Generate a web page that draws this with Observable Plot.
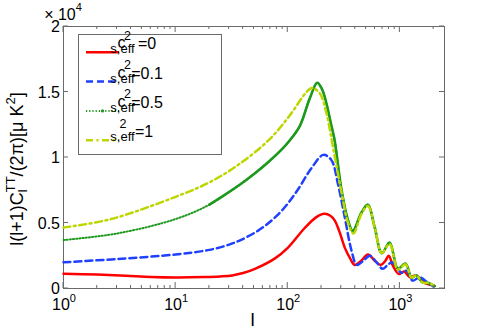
<!DOCTYPE html>
<html><head><meta charset="utf-8">
<script src="https://cdn.jsdelivr.net/npm/d3@7"></script>
<script src="https://cdn.jsdelivr.net/npm/@observablehq/plot@0.6"></script>
<style>
body{margin:0;background:#fff;}
#chart{width:491px;height:333px;}
svg text{font-family:"Liberation Sans",Arial,Helvetica,sans-serif;fill:#000;}
</style>
</head><body><div id="chart"></div>
<script>
// ---- data ----
const l_red = [1,2,3.6,6,10,18,25,32,40,51,77,100,141,180,212,240,262,290,323,360,395,450,519,600,676,740,796,870,980,1090,1230,1400,1660,2040];
const c_red = [1130,1060,970,880,840,870,920,1000,1180,1500,2300,3100,4600,5450,5700,5550,5200,4300,3100,2300,1800,2100,2600,2100,1800,2100,2500,1700,1100,1300,850,1000,450,200];

const l_blue = [1,3,10,20,30,38,54,72,94,122,163,208,245,280,323,370,413,470,540,620,700,780,850,940,1030,1150,1300,1500,1800,2000];
const c_blue = [2000,2250,2600,2950,3350,3700,4400,5200,6200,7500,9200,10200,9800,8000,5400,2900,1800,2100,2500,2000,1500,1800,2000,1600,1200,1350,600,850,400,150];

const l_green = [1,3,10,20,37,51,68,88,104,128,157,183,200,214,247,262,302,345,380,455,519,595,690,810,960,1120,1270,1400,1600,1800,2040];
const c_green = [3700,4200,5300,6400,7900,8800,9700,10600,11300,12400,14500,15700,15300,14600,12300,11300,7500,5200,4400,5800,6400,4700,2700,3500,1500,1900,850,1000,450,420,180];

const l_yellow = [1,2.65,10,20,37,69,104,147,165,193,221,253,302,345,385,455,519,595,690,810,960,1120,1270,1400,1600,1800,2040];
const c_yellow = [4650,5300,7000,8100,9500,11400,13200,15000,15300,14900,13400,10800,7300,5000,4200,5700,6300,4700,2700,3400,1450,1850,850,1000,450,420,180];

const legendValues = ["=0","=0.1","=0.5","=1"];
const xTicks = [1,10,100,1000];
const xTickExp = ["0","1","2","3"];
const yTicks = [0,5000,10000,15000,20000];
const yTickLabels = ["0","0.5","1","1.5","2"];

const colors = ["#ff0000","#2040ff","#1d9a1d","#bdd600"];

const rows = (ls, cs) => ls.map((l,i)=>({l, c: cs[i]}));
const red = rows(l_red, c_red), blue = rows(l_blue, c_blue),
      green = rows(l_green, c_green), yellow = rows(l_yellow, c_yellow);
const dotSplit = 20;
const curve = "catmull-rom";

const W=491, H=333;
const plot = Plot.plot({
  width: W, height: H,
  marginLeft: 63, marginRight: 47, marginTop: 26, marginBottom: 45,
  x: {type: "log", domain: [1, 2500], axis: null},
  y: {domain: [0, 20000], axis: null},
  style: {background: "#fff", overflow: "visible"},
  marks: [
    Plot.frame({stroke: "#6a6a6a", strokeWidth: 1}),
    Plot.line(red, {x: "l", y: "c", stroke: colors[0], strokeWidth: 2.5, curve}),
    Plot.line(blue, {x: "l", y: "c", stroke: colors[1], strokeWidth: 2.5, strokeDasharray: "7,4", curve}),
    Plot.line(green, {x: "l", y: "c", stroke: colors[2], strokeWidth: 2, strokeDasharray: "1.2,2", curve}),
    Plot.line(green.filter(d => d.l >= dotSplit), {x: "l", y: "c", stroke: colors[2], strokeWidth: 2.6, curve}),
    Plot.line(yellow, {x: "l", y: "c", stroke: colors[3], strokeWidth: 2.5, strokeDasharray: "7,3.5,2,3.5", curve})
  ]
});
document.getElementById("chart").appendChild(plot);

const sx = plot.scale("x"), sy = plot.scale("y");
const svg = d3.select(plot);
const X0 = sx.apply(1), X1 = sx.apply(2500), Y0 = sy.apply(0), Y1 = sy.apply(20000);
const g = svg.append("g");

// ticks (inward, both sides)
const minor = [];
for (const dec of [1,10,100,1000]) for (let k=2;k<=9;k++) if (dec*k <= 2500) minor.push(dec*k);
const tk = g.append("g").attr("stroke","#6a6a6a").attr("stroke-width",1);
for (const v of xTicks) {
  const x = sx.apply(v);
  tk.append("line").attr("x1",x).attr("x2",x).attr("y1",Y0).attr("y2",Y0-6);
  tk.append("line").attr("x1",x).attr("x2",x).attr("y1",Y1).attr("y2",Y1+6);
}
for (const v of minor) {
  const x = sx.apply(v);
  tk.append("line").attr("x1",x).attr("x2",x).attr("y1",Y0).attr("y2",Y0-3);
  tk.append("line").attr("x1",x).attr("x2",x).attr("y1",Y1).attr("y2",Y1+3);
}
for (const v of yTicks) {
  const y = sy.apply(v);
  tk.append("line").attr("x1",X0).attr("x2",X0+5).attr("y1",y).attr("y2",y);
  tk.append("line").attr("x1",X1).attr("x2",X1-5).attr("y1",y).attr("y2",y);
}

// tick labels
xTicks.forEach((v,i) => {
  const t = g.append("text").attr("x", sx.apply(v)+1).attr("y", Y0+22)
    .attr("text-anchor","middle").attr("font-size",16).text("10");
  t.append("tspan").attr("dy",-8).attr("font-size",11).text(xTickExp[i]);
});
yTicks.forEach((v,i) => {
  g.append("text").attr("x", X0-3).attr("y", sy.apply(v)).attr("dy","0.38em")
    .attr("text-anchor","end").attr("font-size",16).text(yTickLabels[i]);
});
// exponent label
const ex = g.append("text").attr("x", X0).attr("y", 20).attr("font-size",16).text("× 10");
ex.append("tspan").attr("dy",-9).attr("font-size",11).text("4");

// axis labels
g.append("text").attr("x", (X0+X1)/2 - 1).attr("y", 326).attr("text-anchor","middle").attr("font-size",19).text("l");
const yl = g.append("text").attr("transform", `translate(23,${(Y0+Y1)/2 + 12}) rotate(-90)`)
  .attr("text-anchor","middle").attr("font-size",18);
yl.append("tspan").text("l(l+1)C");
yl.append("tspan").attr("font-size",13).attr("dy",4).text("l");
yl.append("tspan").attr("font-size",13).attr("dx",-3).attr("dy",-12).text("TT");
yl.append("tspan").attr("dy",8).text("/(2π)[μ K");
yl.append("tspan").attr("font-size",13).attr("dy",-8).text("2");
yl.append("tspan").attr("dy",8).text("]");

// legend
const lg = g.append("g");
lg.append("rect").attr("x",78.5).attr("y",34.5).attr("width",143).attr("height",120)
  .attr("fill","#fff").attr("stroke","#6a6a6a");
const styles = [
  {w:2.5, dash:null},
  {w:2.5, dash:"7,4"},
  {w:2, dash:"1.2,2"},
  {w:2.5, dash:"7,3.5,2,3.5"}
];
legendValues.forEach((val,i) => {
  const ly = 52.3 + 29.3*i;
  const ln = lg.append("line").attr("x1",86).attr("x2",119).attr("y1",ly).attr("y2",ly)
    .attr("stroke",colors[i]).attr("stroke-width",styles[i].w);
  if (styles[i].dash) ln.attr("stroke-dasharray",styles[i].dash);
  if (i===2) lg.append("circle").attr("cx",102.5).attr("cy",ly).attr("r",1.6).attr("fill",colors[i]);
  const t = lg.append("text").attr("font-size",16);
  if (i<3) t.append("tspan").attr("x",121.5).attr("y",ly-4).text("c");
  t.append("tspan").attr("x",i<3?127.5:123).attr("y",ly-12.5).attr("font-size",12.5).text("2");
  t.append("tspan").attr("x",122.5).attr("y",ly+1).attr("font-size",13).text("s,eff");
  t.append("tspan").attr("x",i<3?147:144).attr("y",ly-3).text(val);
});
</script>
</body></html>
